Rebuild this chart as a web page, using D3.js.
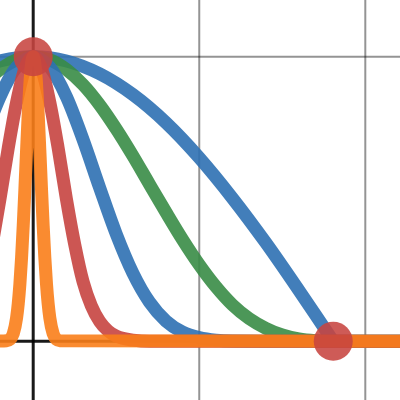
<!DOCTYPE html>
<html>
<head>
<meta charset="utf-8">
<script src="https://cdn.jsdelivr.net/npm/d3@7"></script>
<style>
  html, body { margin: 0; padding: 0; background: #fff; }
  svg { display: block; }
</style>
</head>
<body>
<div id="chart"></div>
<script>
// curves (x in grid units, y in grid units)
const blueWideX = [-0.25, -0.2, 0, 0.2, 0.4, 0.6, 0.8, 1.0, 1.2, 1.4, 1.6, 1.7, 1.807];
const blueWideY = [0.977, 0.985, 1, 0.985, 0.94, 0.867, 0.768, 0.645, 0.503, 0.347, 0.179, 0.093, 0];

const greenX = [-0.25, -0.2, -0.1, 0, 0.1, 0.2, 0.3, 0.4, 0.5, 0.6, 0.7, 0.8, 0.9, 1.0, 1.1, 1.2, 1.3, 1.4, 1.5, 1.6, 1.7, 1.807, 2.3];
const greenY = [0.931, 0.955, 0.989, 1, 0.989, 0.955, 0.902, 0.831, 0.746, 0.652, 0.552, 0.453, 0.357, 0.269, 0.192, 0.128, 0.08, 0.046, 0.022, 0.008, 0.002, 0, 0];

const blueNarrowX = [-0.25, -0.2, -0.1, 0, 0.1, 0.2, 0.3, 0.4, 0.5, 0.6, 0.7, 0.8, 0.9, 1.0, 1.1, 1.2, 1.4, 2.3];
const blueNarrowY = [0.788, 0.859, 0.963, 1, 0.963, 0.859, 0.709, 0.54, 0.377, 0.24, 0.138, 0.071, 0.032, 0.013, 0.004, 0.001, 0, 0];

const redX = [-0.25, -0.2, -0.15, -0.1, -0.05, 0, 0.05, 0.1, 0.15, 0.2, 0.25, 0.3, 0.35, 0.4, 0.45, 0.5, 0.6, 0.7, 2.3];
const redY = [0.33, 0.5, 0.68, 0.84, 0.958, 1, 0.958, 0.84, 0.68, 0.5, 0.34, 0.21, 0.125, 0.07, 0.037, 0.018, 0.004, 0, 0];

const orangeX = [-0.25, -0.16, -0.14, -0.12, -0.1, -0.09, -0.08, -0.07, -0.06, -0.05, -0.04, -0.03, -0.02, -0.01, 0,
  0.01, 0.02, 0.03, 0.04, 0.05, 0.06, 0.07, 0.08, 0.09, 0.1, 0.12, 0.14, 0.16, 2.3];
const orangeY = [0, 0.002, 0.007, 0.027, 0.082, 0.132, 0.202, 0.294, 0.407, 0.535, 0.67, 0.799, 0.905, 0.975, 1,
  0.975, 0.905, 0.799, 0.67, 0.535, 0.407, 0.294, 0.202, 0.132, 0.082, 0.027, 0.007, 0.002, 0];

const pointsX = [0, 1.807];
const pointsY = [1, 0];

const xGrid = [1, 2];
const yGrid = [1];

const width = 400;
const height = 400;

const x = d3.scaleLinear().domain([0, 2]).range([33.2, 365.3]);
const y = d3.scaleLinear().domain([0, 1]).range([341.3, 56.7]);

const svg = d3.select("#chart")
  .append("svg")
  .attr("width", width)
  .attr("height", height);

// grid
svg.append("g")
  .selectAll("line")
  .data(xGrid)
  .join("line")
  .attr("x1", d => x(d))
  .attr("x2", d => x(d))
  .attr("y1", 0)
  .attr("y2", height)
  .attr("stroke", "#000")
  .attr("stroke-opacity", 0.42)
  .attr("stroke-width", 2);

svg.append("g")
  .selectAll("line")
  .data(yGrid)
  .join("line")
  .attr("x1", 0)
  .attr("x2", width)
  .attr("y1", d => y(d))
  .attr("y2", d => y(d))
  .attr("stroke", "#000")
  .attr("stroke-opacity", 0.42)
  .attr("stroke-width", 2);

// axes
svg.append("line")
  .attr("x1", x(0)).attr("x2", x(0))
  .attr("y1", 0).attr("y2", height)
  .attr("stroke", "#000")
  .attr("stroke-opacity", 0.9)
  .attr("stroke-width", 3);

svg.append("line")
  .attr("x1", 0).attr("x2", width)
  .attr("y1", y(0)).attr("y2", y(0))
  .attr("stroke", "#000")
  .attr("stroke-opacity", 0.9)
  .attr("stroke-width", 3);

const curves = [
  { xs: blueWideX, ys: blueWideY, color: "#2d70b3" },
  { xs: greenX, ys: greenY, color: "#388c46" },
  { xs: blueNarrowX, ys: blueNarrowY, color: "#2d70b3" },
  { xs: redX, ys: redY, color: "#c74440" },
  { xs: orangeX, ys: orangeY, color: "#fa7e19" }
];

const line = d3.line()
  .x(d => x(d[0]))
  .y(d => y(d[1]))
  .curve(d3.curveMonotoneX);

svg.append("g")
  .selectAll("path")
  .data(curves)
  .join("path")
  .attr("d", c => line(c.xs.map((v, i) => [v, c.ys[i]])))
  .attr("fill", "none")
  .attr("stroke", c => c.color)
  .attr("stroke-opacity", 0.9)
  .attr("stroke-width", 13)
  .attr("stroke-linecap", "round")
  .attr("stroke-linejoin", "round");

svg.append("g")
  .selectAll("circle")
  .data(pointsX)
  .join("circle")
  .attr("cx", d => x(d))
  .attr("cy", (d, i) => y(pointsY[i]))
  .attr("r", 19.5)
  .attr("fill", "#c74440")
  .attr("fill-opacity", 0.88);
</script>
</body>
</html>
